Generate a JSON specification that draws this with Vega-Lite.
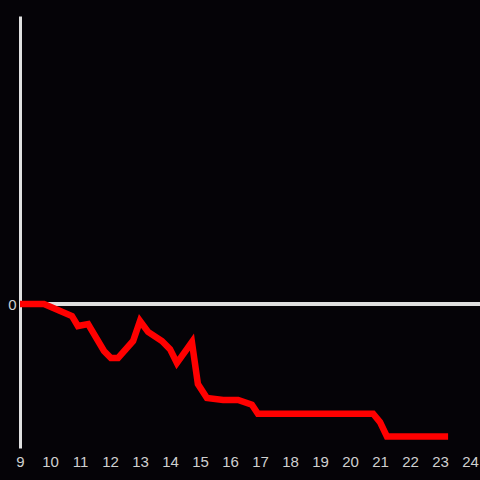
{
  "$schema": "https://vega.github.io/schema/vega-lite/v6.json",
  "autosize": "none",
  "width": 460,
  "height": 432,
  "padding": {"left": 20, "top": 16, "right": 0, "bottom": 32},
  "background": "#050307",
  "config": {"view": {"stroke": null}},
  "data": {"values": [
    {"x": 9.0, "y": 0},
    {"x": 9.8, "y": 0},
    {"x": 10.73, "y": -0.083},
    {"x": 10.93, "y": -0.153},
    {"x": 11.27, "y": -0.139},
    {"x": 11.8, "y": -0.326},
    {"x": 12.03, "y": -0.375},
    {"x": 12.27, "y": -0.375},
    {"x": 12.77, "y": -0.257},
    {"x": 13.0, "y": -0.118},
    {"x": 13.27, "y": -0.194},
    {"x": 13.73, "y": -0.257},
    {"x": 14.0, "y": -0.313},
    {"x": 14.23, "y": -0.41},
    {"x": 14.73, "y": -0.264},
    {"x": 14.93, "y": -0.556},
    {"x": 15.23, "y": -0.653},
    {"x": 15.77, "y": -0.667},
    {"x": 16.27, "y": -0.667},
    {"x": 16.73, "y": -0.7},
    {"x": 16.93, "y": -0.762},
    {"x": 20.77, "y": -0.762},
    {"x": 21.0, "y": -0.82},
    {"x": 21.23, "y": -0.92},
    {"x": 23.27, "y": -0.92}
  ]},
  "layer": [
    {
      "mark": {"type": "rule", "color": "#e0e0e0", "strokeWidth": 3},
      "encoding": {"y": {"datum": 0, "type": "quantitative"}}
    },
    {
      "mark": {"type": "line", "color": "#ff0000", "strokeWidth": 6.5, "strokeJoin": "miter", "strokeCap": "butt"},
      "encoding": {
        "x": {"field": "x", "type": "quantitative", "scale": {"domain": [9, 24.3333], "nice": false, "zero": false},
          "axis": {"title": null, "values": [9,10,11,12,13,14,15,16,17,18,19,20,21,22,23,24], "format": "d", "domain": false, "ticks": false, "grid": false, "labelColor": "#d0d0d0", "labelFontSize": 15, "labelFont": "Liberation Sans", "labelPadding": 6, "labelFlush": false, "labelOverlap": false}},
        "y": {"field": "y", "type": "quantitative", "scale": {"domain": [-1, 2], "nice": false, "zero": false},
          "axis": {"title": null, "values": [0], "format": "d", "domain": true, "domainColor": "#e0e0e0", "domainWidth": 3, "ticks": false, "grid": false, "labelColor": "#d0d0d0", "labelFontSize": 15, "labelFont": "Liberation Sans", "labelPadding": 4}}
      }
    }
  ]
}
